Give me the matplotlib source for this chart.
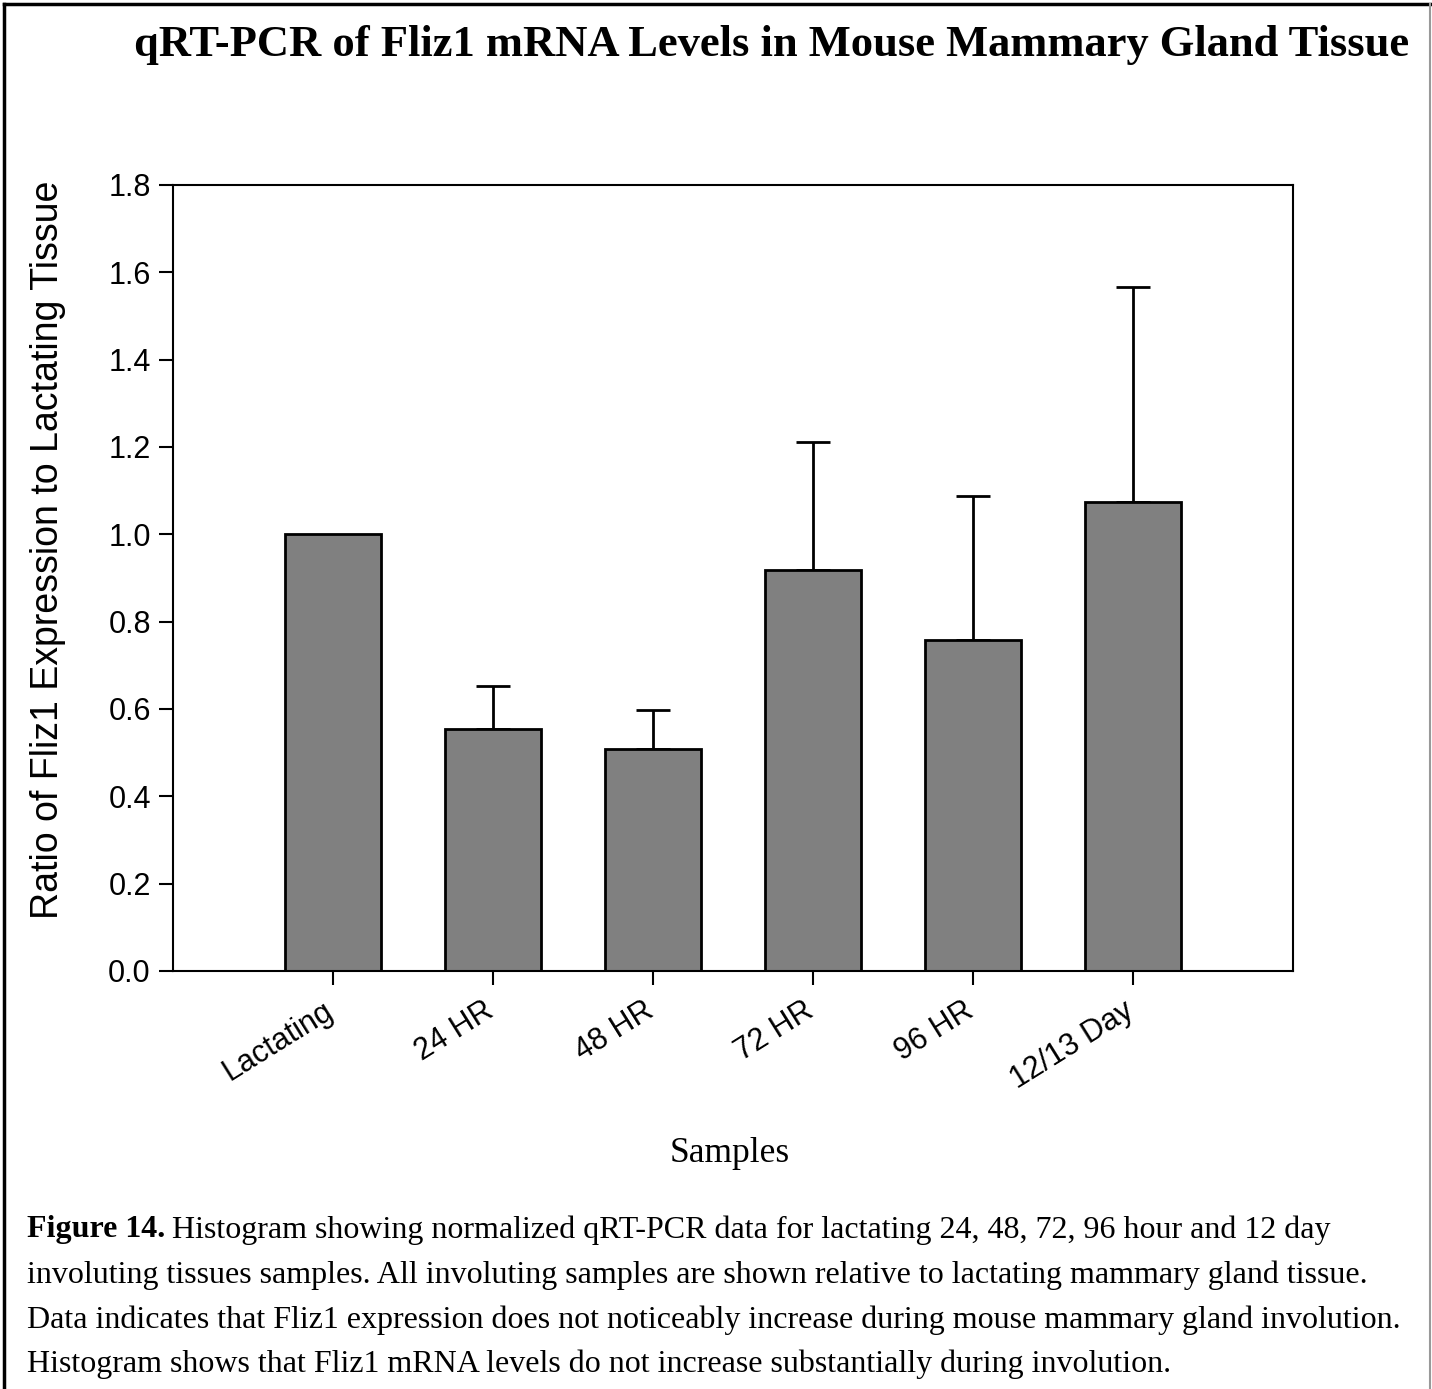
import numpy as np
import matplotlib
matplotlib.use('Agg')
import matplotlib.pyplot as plt
import matplotlib.transforms as mtransforms
from matplotlib.lines import Line2D

# data
samples = ['Lactating', '24 HR', '48 HR', '72 HR', '96 HR', '12/13 Day']
ratio = [1.0, 0.555, 0.508, 0.918, 0.758, 1.074]
err_up = [0.0, 0.098, 0.090, 0.294, 0.330, 0.492]
y_ticks = [0.0, 0.2, 0.4, 0.6, 0.8, 1.0, 1.2, 1.4, 1.6, 1.8]

sans = 'Liberation Sans'
serif = 'Liberation Serif'

W, H = 1432, 1389
fig = plt.figure(figsize=(W / 100, H / 100), dpi=100)
fig.patch.set_facecolor('white')

ax = fig.add_axes([173 / W, 1 - 971 / H, (1293 - 173) / W, (971 - 185) / H])

x = np.arange(1, len(samples) + 1)
ax.bar(x, ratio, width=0.6, color='#808080', edgecolor='black', linewidth=2, zorder=2)
# upper error bars only
for xi, yi, e in zip(x, ratio, err_up):
    if e > 0:
        ax.errorbar(xi, yi, yerr=[[0], [e]], fmt='none', ecolor='black',
                    elinewidth=2, capsize=12.5, capthick=2, zorder=1)

ax.set_xlim(0, 7)
ax.set_ylim(0, 1.8)
ax.set_yticks(y_ticks)
ax.set_yticklabels(['%.1f' % v for v in y_ticks], fontfamily=sans, fontsize=22)
ax.set_xticks(x)
ax.set_xticklabels(samples, rotation=32, ha='right', rotation_mode='anchor',
                   fontfamily=sans, fontsize=22)
ax.tick_params(axis='both', direction='out', length=10, width=1.5)
ax.tick_params(axis='y', pad=6)
ax.tick_params(axis='x', pad=8)
# nudge rotated labels so they end at the tick
shift = mtransforms.ScaledTranslation(-10 / 100, 0, fig.dpi_scale_trans)
for lab in ax.get_xticklabels():
    lab.set_transform(lab.get_transform() + shift)
for s in ax.spines.values():
    s.set_linewidth(1.5)

fig.text(48 / W, 1 - 550 / H, 'Ratio of Fliz1 Expression to Lactating Tissue',
         rotation=90, ha='center', va='center', fontfamily=sans, fontsize=27)

fig.text(772 / W, 1 - 45 / H, 'qRT-PCR of Fliz1 mRNA Levels in Mouse Mammary Gland Tissue',
         ha='center', va='center', fontfamily=serif, fontweight='bold', fontsize=32)
fig.text(730 / W, 1 - 1153 / H, 'Samples', ha='center', va='center',
         fontfamily=serif, fontsize=25.5)

# caption
lines = [
    'Histogram showing normalized qRT-PCR data for lactating 24, 48, 72, 96 hour and 12 day',
    'involuting tissues samples. All involuting samples are shown relative to lactating mammary gland tissue.',
    'Data indicates that Fliz1 expression does not noticeably increase during mouse mammary gland involution.',
    'Histogram shows that Fliz1 mRNA levels do not increase substantially during involution.',
]
ys = [1230, 1275, 1320, 1364]
fig.canvas.draw()
r = fig.canvas.get_renderer()
b = fig.text(27 / W, 1 - ys[0] / H, 'Figure 14.', ha='left', va='center',
             fontfamily=serif, fontweight='bold', fontsize=23)
bb = b.get_window_extent(renderer=r)
fig.text((bb.x1 + 7) / W, 1 - ys[0] / H, lines[0], ha='left', va='center',
         fontfamily=serif, fontsize=23)
for ln, yy in zip(lines[1:], ys[1:]):
    fig.text(27 / W, 1 - yy / H, ln, ha='left', va='center', fontfamily=serif, fontsize=23)

# frame around the figure (no bottom edge)
fig.add_artist(Line2D([4 / W, 4 / W], [0, 1 - 4 / H], transform=fig.transFigure, color='black', lw=2.5))
fig.add_artist(Line2D([4 / W, 1 - 2 / W], [1 - 4 / H, 1 - 4 / H], transform=fig.transFigure, color='black', lw=2.5))
fig.add_artist(Line2D([1 - 2 / W, 1 - 2 / W], [0, 1 - 4 / H], transform=fig.transFigure, color='#999999', lw=1.5))

fig.savefig('out.png', dpi=100)
